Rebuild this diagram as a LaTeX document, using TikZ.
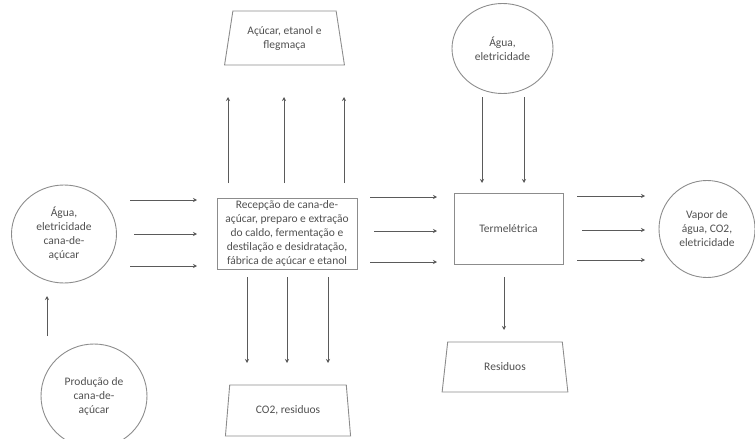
\documentclass[tikz,border=0pt]{standalone}
\usepackage{fontspec}
\setmainfont{Carlito}
\usetikzlibrary{shapes.geometric,arrows.meta}
\definecolor{txt}{HTML}{505050}
\definecolor{edge}{HTML}{8C8C8C}
\definecolor{arrc}{HTML}{5A5A5A}
\begin{document}
\begin{tikzpicture}[x=1pt,y=-1pt,
  every node/.style={font=\fontsize{11.5}{14}\selectfont, text=txt, align=center},
  ell/.style={ellipse, draw=edge, line width=0.9pt, inner sep=0pt},
  boxn/.style={rectangle, draw=edge, line width=0.9pt, inner sep=0pt},
  trap/.style={trapezium, trapezium stretches=true, trapezium left angle=76, trapezium right angle=76, draw=edge, line width=0.9pt, inner sep=0pt},
  arr/.style={draw=arrc, line width=0.8pt, -{Stealth[length=4pt,width=4pt]}}]
\useasboundingbox (0,0) rectangle (755,439);

\node[ell, minimum width=105pt, minimum height=98pt] (lc) at (64,234) {Água,\\eletricidade\\cana-de-\\açúcar};
\node[ell, minimum width=106pt, minimum height=104pt] (pc) at (94,396) {Produção de\\cana-de-\\açúcar};
\node[boxn, minimum width=140pt, minimum height=71pt] (main) at (287,233.5) {Recepção de cana-de-\\açúcar, preparo e extração\\do caldo, fermentação e\\destilação e desidratação,\\fábrica de açúcar e etanol};
\node[trap, minimum width=121pt, minimum height=54pt] (tt) at (284.5,38) {Açúcar, etanol e\\flegmaça};
\node[trap, minimum width=126pt, minimum height=51pt] (bt) at (288,410.5) {CO2, residuos};
\node[boxn, minimum width=109pt, minimum height=71pt] (term) at (508.5,228.5) {Termelétrica};
\node[ell, minimum width=101pt, minimum height=90pt] (tc) at (502.5,48.5) {Água,\\eletricidade};
\node[trap, minimum width=126pt, minimum height=50pt] (rt) at (505,367) {Residuos};
\node[ell, minimum width=96pt, minimum height=97pt] (rc) at (707,229) {Vapor de\\água, CO2,\\eletricidade};

% left circle -> main
\coordinate (a1s) at (130,200); \coordinate (a1e) at (197,200);
\coordinate (a2s) at (134,234); \coordinate (a2e) at (197,234);
\coordinate (a3s) at (130,266); \coordinate (a3e) at (197,266);
\draw[arr] (a1s) -- (a1e);
\draw[arr] (a2s) -- (a2e);
\draw[arr] (a3s) -- (a3e);
% main -> term
\coordinate (b1s) at (370,197); \coordinate (b1e) at (437,197);
\coordinate (b2s) at (374,231); \coordinate (b2e) at (437,231);
\coordinate (b3s) at (370,262); \coordinate (b3e) at (437,262);
\draw[arr] (b1s) -- (b1e);
\draw[arr] (b2s) -- (b2e);
\draw[arr] (b3s) -- (b3e);
% term -> right circle
\coordinate (c1s) at (577,196); \coordinate (c1e) at (645,196);
\coordinate (c2s) at (582,230); \coordinate (c2e) at (645,230);
\coordinate (c3s) at (577,260); \coordinate (c3e) at (645,260);
\draw[arr] (c1s) -- (c1e);
\draw[arr] (c2s) -- (c2e);
\draw[arr] (c3s) -- (c3e);
% main up
\coordinate (d1s) at (228,183); \coordinate (d1e) at (228,97);
\coordinate (d2s) at (284,183); \coordinate (d2e) at (284,97);
\coordinate (d3s) at (344,183); \coordinate (d3e) at (344,97);
\draw[arr] (d1s) -- (d1e);
\draw[arr] (d2s) -- (d2e);
\draw[arr] (d3s) -- (d3e);
% main down
\coordinate (e1s) at (247,277); \coordinate (e1e) at (247,363);
\coordinate (e2s) at (287,277); \coordinate (e2e) at (287,363);
\coordinate (e3s) at (328,277); \coordinate (e3e) at (328,363);
\draw[arr] (e1s) -- (e1e);
\draw[arr] (e2s) -- (e2e);
\draw[arr] (e3s) -- (e3e);
% top circle -> term
\coordinate (f1s) at (482,97); \coordinate (f1e) at (482,183);
\coordinate (f2s) at (524,97); \coordinate (f2e) at (524,183);
\draw[arr] (f1s) -- (f1e);
\draw[arr] (f2s) -- (f2e);
% term -> residuos
\coordinate (gs) at (504,277); \coordinate (ge) at (504,330);
\draw[arr] (gs) -- (ge);
% producao -> left circle
\coordinate (hs) at (47,336); \coordinate (he) at (47,296);
\draw[arr] (hs) -- (he);
\end{tikzpicture}
\end{document}
